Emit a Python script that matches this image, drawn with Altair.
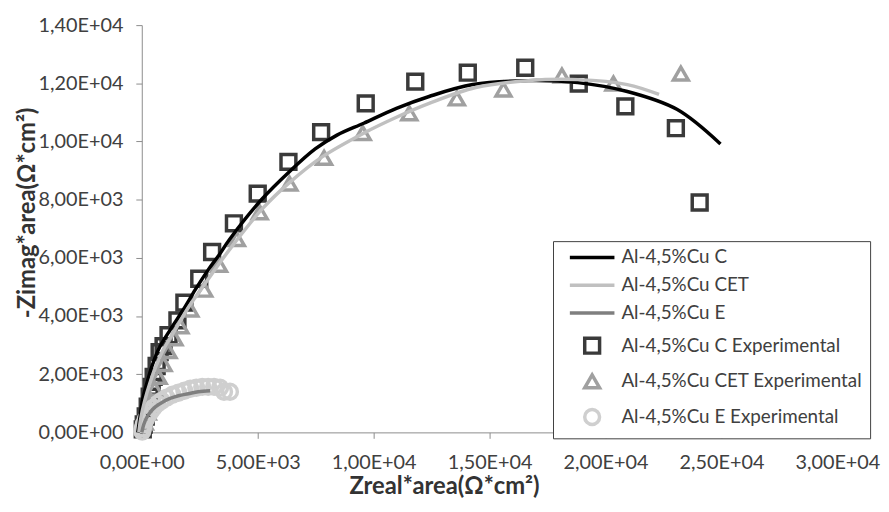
import altair as alt
import pandas as pd

series_names = [
    "Al-4,5%Cu C",
    "Al-4,5%Cu CET",
    "Al-4,5%Cu E",
    "Al-4,5%Cu C Experimental",
    "Al-4,5%Cu CET Experimental",
    "Al-4,5%Cu E Experimental",
]
series_colors = ["#000000", "#c0c0c0", "#7f7f7f", "#3a3a3a", "#a0a0a0", "#cfcfcf"]

x_ticks = [0, 5000, 10000, 15000, 20000, 25000, 30000]
y_ticks = [0, 2000, 4000, 6000, 8000, 10000, 12000, 14000]

# fitted curves
c_fit_x = [-171, -85, 43, 214, 427, 726, 1239, 1795, 2308, 2863, 3333, 3761, 5128, 6410, 7479,
           8419, 9573, 10983, 12393, 14274, 16667, 18803, 20940, 23077, 24957]
c_fit_y = [0, 477, 1158, 1669, 2248, 2861, 3543, 4224, 4905, 5586, 6097, 6608, 7971, 8993, 9742,
           10219, 10628, 11139, 11547, 11956, 12092, 12024, 11718, 11105, 9912]

cet_fit_x = [-128, -43, 128, 342, 598, 940, 1453, 2009, 2607, 3205, 3932, 5214, 6368, 7778,
             9573, 10983, 12393, 14402, 16667, 18803, 20940, 22308]
cet_fit_y = [0, 477, 1090, 1669, 2248, 2861, 3543, 4292, 4973, 5655, 6438, 7698, 8584, 9470,
             10287, 10832, 11309, 11854, 12092, 12126, 11956, 11616]

e_fit_x = [0, 85, 214, 385, 598, 855, 1197, 1581, 2009, 2436, 2949]
e_fit_y = [0, 272, 511, 715, 886, 1022, 1158, 1260, 1328, 1397, 1431]

# experimental points
sq_x = [24060, 23034, 20855, 18846, 16538, 14060, 11795, 9658, 7735, 6325, 5000, 3974, 3034,
        2479, 1838, 1538, 1154, 940, 770, 641, 513, 427, 342, 256, 171, 85, 43]
sq_y = [7903, 10457, 11207, 11990, 12535, 12365, 12058, 11309, 10321, 9299, 8209, 7187, 6200,
        5280, 4462, 3849, 3338, 2963, 2759, 2282, 1908, 1567, 1226, 886, 545, 272, 102]

tri_x = [23248, 20342, 18120, 15598, 13590, 11538, 9530, 7863, 6368, 5085, 4103, 3333, 2692,
         2094, 1667, 1410, 1154, 940, 726, 556, 385, 256, 128]
tri_y = [12331, 11990, 12263, 11786, 11479, 10968, 10287, 9436, 8550, 7562, 6642, 5757, 4905,
         4224, 3645, 3236, 2793, 2350, 1908, 1499, 1090, 681, 341]

circ_x = [20, 43, 85, 171, 256, 385, 513, 684, 855, 1068, 1325, 1581, 1838, 2094, 2350, 2607,
          2863, 3120, 3376, 3547, 3803]
circ_y = [30, 136, 272, 443, 579, 715, 852, 988, 1090, 1192, 1294, 1363, 1431, 1499, 1533, 1567,
          1567, 1567, 1533, 1397, 1397]


def frame(xs, ys, name):
    return pd.DataFrame({"x": xs, "y": ys, "series": name, "order": list(range(len(xs)))})


lines_df = pd.concat([
    frame(c_fit_x, c_fit_y, series_names[0]),
    frame(cet_fit_x, cet_fit_y, series_names[1]),
    frame(e_fit_x, e_fit_y, series_names[2]),
], ignore_index=True)

points_df = pd.concat([
    frame(sq_x, sq_y, series_names[3]),
    frame(tri_x, tri_y, series_names[4]),
    frame(circ_x, circ_y, series_names[5]),
], ignore_index=True)

label_expr = "replace(replace(format(datum.value, '.2e'), '.', ','), 'e+', 'E+0')"

color_scale = alt.Scale(domain=series_names, range=series_colors)
shape_scale = alt.Scale(domain=series_names,
                        range=["M-3,0H3", "M-3,0H3", "M-3,0H3", "square", "triangle-up", "circle"])
size_scale = alt.Scale(domain=series_names, range=[225, 225, 225, 196, 150, 100])
sw_scale = alt.Scale(domain=series_names, range=[3.5, 3.5, 3, 1.6, 1.3, 1.3])

x_enc = alt.X("x:Q", scale=alt.Scale(domain=[0, 30000], nice=False, zero=False),
              axis=alt.Axis(values=x_ticks, labelExpr=label_expr, title="Zreal*area(Ω*cm²)",
                            labelPadding=14, labelFlush=False, titleX=305, titleY=55,
                            titleFontSize=24, titleBaseline="middle", titleAnchor="start",
                            titleAlign="center"))
y_enc = alt.Y("y:Q", scale=alt.Scale(domain=[0, 14000], nice=False),
              axis=alt.Axis(values=y_ticks, labelExpr=label_expr, title="-Zimag*area(Ω*cm²)",
                            labelPadding=13, labelFlush=False, titleX=-115, titleY=189,
                            titleFontSize=24, titleBaseline="middle", titleAlign="center",
                            titleAngle=-90))

leg = alt.Legend(title=None, orient="none", legendX=415, legendY=218, symbolOffset=23,
                 labelOffset=20, labelLimit=500)

points = alt.Chart(points_df).mark_point(filled=False, opacity=1).encode(
    x=x_enc,
    y=y_enc,
    color=alt.Color("series:N", scale=color_scale, legend=leg),
    shape=alt.Shape("series:N", scale=shape_scale, legend=leg),
    size=alt.Size("series:N", scale=size_scale, legend=leg),
    strokeWidth=alt.StrokeWidth("series:N", scale=sw_scale, legend=leg),
)

lines = alt.Chart(lines_df).mark_line(interpolate="catmull-rom").encode(
    x=x_enc,
    y=y_enc,
    color=alt.Color("series:N", scale=color_scale, legend=None),
    strokeWidth=alt.StrokeWidth("series:N", scale=sw_scale, legend=None),
    order=alt.Order("order:Q"),
)

chart = alt.layer(points, lines).properties(
    width=702,
    height=411,
    autosize=alt.AutoSizeParams(type="none"),
    padding={"left": 135, "top": 15, "right": 44, "bottom": 70},
).configure_view(stroke=None).configure_axis(
    grid=False,
    domainColor="#8c8c8c",
    tickColor="#8c8c8c",
    tickSize=6,
    labelFont="Lato",
    labelFontSize=20,
    labelColor="#404040",
    titleFont="Lato",
    titleFontWeight="bold",
    titleColor="#333333",
).configure_legend(
    labelFont="Lato",
    labelFontSize=19,
    labelColor="#404040",
    strokeColor="#404040",
    fillColor="white",
    padding=7,
    rowPadding=8,
)

chart.save("out.html", embed_options={"renderer": "svg", "actions": False})
